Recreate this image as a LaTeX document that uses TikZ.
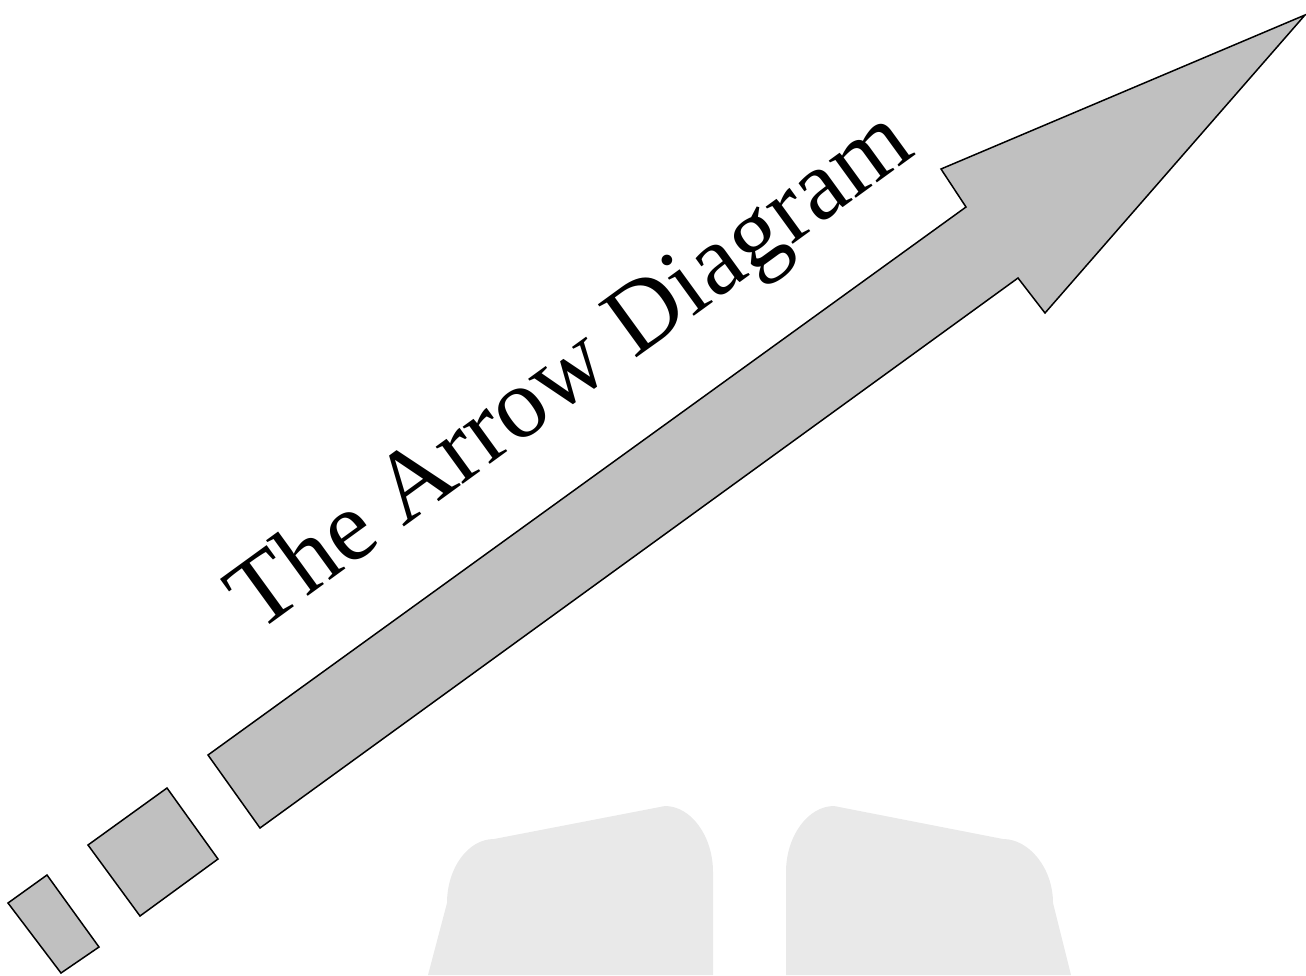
\documentclass[tikz,border=0pt]{standalone}
\usepackage{fontspec}
\setmainfont{Liberation Serif}
\definecolor{arrowgray}{HTML}{C0C0C0}
\definecolor{bookgray}{HTML}{E9E9E9}
\tikzset{
  piece/.style={draw=black, fill=arrowgray, line width=1.5pt, line join=miter},
  ghost/.style={fill=bookgray, draw=none},
  title/.style={font=\fontsize{100}{110}\selectfont, inner sep=0pt, rotate=36}
}
\begin{document}
\begin{tikzpicture}[x=1pt,y=-1pt]
\useasboundingbox (0,0) rectangle (1306,975);
% light gray background shapes
\fill[ghost] (428,975) -- (447,903) .. controls (447,868) and (468,839) .. (494,839)
  -- (665,806) .. controls (691,806) and (713,836) .. (713,872) -- (713,975) -- cycle;
\fill[ghost] (786,975) -- (786,872) .. controls (786,836) and (808,806) .. (834,806)
  -- (1003,839) .. controls (1029,839) and (1053,868) .. (1053,903) -- (1071,975) -- cycle;
% small pieces
\draw[piece] (8,903) -- (47,875) -- (99,947) -- (61,973) -- cycle;
\draw[piece] (88,845) -- (167,788) -- (218,859) -- (140,916) -- cycle;
% big arrow
\draw[piece] (208,755) -- (966,207) -- (941,169) -- (1305,15) -- (1045,313) -- (1018,278) -- (260,828) -- cycle;
% title
\node[title, anchor=base west] (t) at (257,634) {The Arrow Diagram};
\end{tikzpicture}
\end{document}
